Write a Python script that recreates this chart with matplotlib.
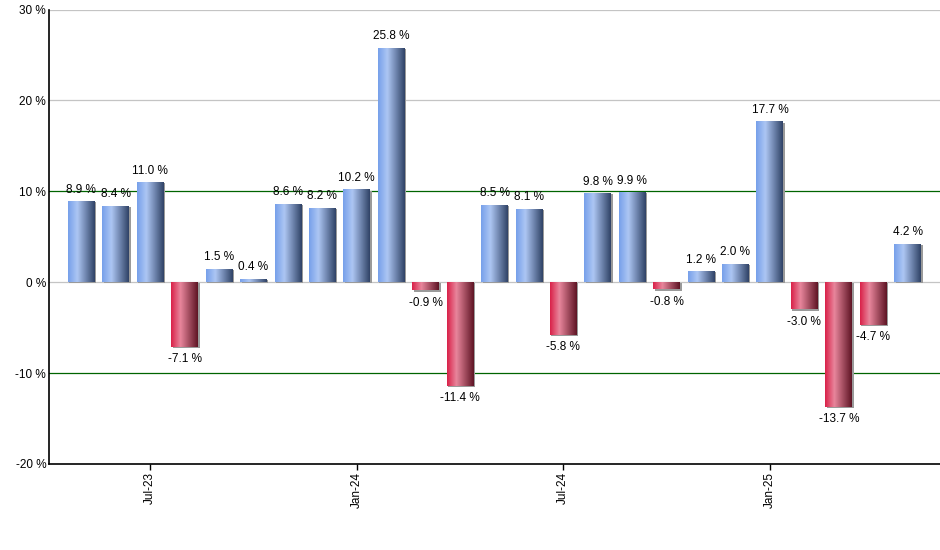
import matplotlib
matplotlib.use("Agg")
import matplotlib.pyplot as plt
import numpy as np
from matplotlib.colors import LinearSegmentedColormap
from matplotlib.transforms import ScaledTranslation

months = ["May-23", "Jun-23", "Jul-23", "Aug-23", "Sep-23", "Oct-23", "Nov-23", "Dec-23",
          "Jan-24", "Feb-24", "Mar-24", "Apr-24", "May-24", "Jun-24", "Jul-24", "Aug-24",
          "Sep-24", "Oct-24", "Nov-24", "Dec-24", "Jan-25", "Feb-25", "Mar-25", "Apr-25", "May-25"]
values = [8.9, 8.4, 11.0, -7.1, 1.5, 0.4, 8.6, 8.2, 10.2, 25.8, -0.9, -11.4, 8.5, 8.1,
          -5.8, 9.8, 9.9, -0.8, 1.2, 2.0, 17.7, -3.0, -13.7, -4.7, 4.2]
tick_labels = ["Jul-23", "Jan-24", "Jul-24", "Jan-25"]
y_ticks = [-20, -10, 0, 10, 20, 30]

plt.rcParams['font.family'] = ['Liberation Sans', 'DejaVu Sans']

fig = plt.figure(figsize=(9.4, 5.5), dpi=100)
ax = fig.add_axes([49/940, 1-464/550, 1-49/940, (464-9.5)/550])

x = np.arange(len(values))

# grid lines
for yv in y_ticks:
    if yv in (10, -10):
        ax.axhline(yv, color="#006400", lw=0.9, zorder=1, snap=True)
    elif yv != -20:
        ax.axhline(yv, color="#c4c4c4", lw=0.9, zorder=1, snap=True)

blue_cmap = LinearSegmentedColormap.from_list(
    "b", [(0, "#76a0ea"), (0.35, "#adc6f3"), (1.0, "#2f4266")])
red_cmap = LinearSegmentedColormap.from_list(
    "r", [(0, "#d92048"), (0.35, "#e8869c"), (1.0, "#5e1424")])

w = 0.78
shadow_tr = ax.transData + ScaledTranslation(1.5/100, -1.2/100, fig.dpi_scale_trans)
ax.bar(x, values, width=w, color="#9a9a9a", zorder=2, transform=shadow_tr, linewidth=0)
bars = ax.bar(x, values, width=w, color="none", zorder=3, linewidth=0)

grad = np.linspace(0, 1, 256).reshape(1, -1)
for b, v in zip(bars, values):
    x0, y0 = b.get_x(), b.get_y()
    bw, bh = b.get_width(), b.get_height()
    cmap = blue_cmap if v >= 0 else red_cmap
    im = ax.imshow(grad, cmap=cmap, aspect="auto",
                   extent=(x0, x0 + bw, min(y0, y0 + bh), max(y0, y0 + bh)),
                   zorder=3, interpolation="bilinear")
    im.set_clip_path(b)

ax.set_xlim(-0.94, len(values) - 0.06)
ax.set_ylim(-20, 30)

for xi, v in zip(x, values):
    if v >= 0:
        ax.annotate(f"{v:.1f} %", (xi, v), xytext=(0, 4), textcoords="offset points",
                    ha="center", va="bottom", fontsize=8.5, zorder=5)
    else:
        ax.annotate(f"{v:.1f} %", (xi, v), xytext=(0, -4.5), textcoords="offset points",
                    ha="center", va="top", fontsize=8.5, zorder=5)

ax.set_yticks(y_ticks)
ax.set_yticklabels([f"{t} %" for t in y_ticks], fontsize=8.5)
ax.tick_params(axis="y", length=0, pad=2)

tick_pos = [months.index(m) for m in tick_labels]
ax.set_xticks(tick_pos)
ax.set_xticklabels(tick_labels, rotation=90, fontsize=8.5)
ax.tick_params(axis="x", length=4, width=1, pad=2)

for s in ("top", "right"):
    ax.spines[s].set_visible(False)
for s in ("left", "bottom"):
    ax.spines[s].set_linewidth(1.2)
    ax.spines[s].set_zorder(6)

fig.savefig("out.png", dpi=100)
